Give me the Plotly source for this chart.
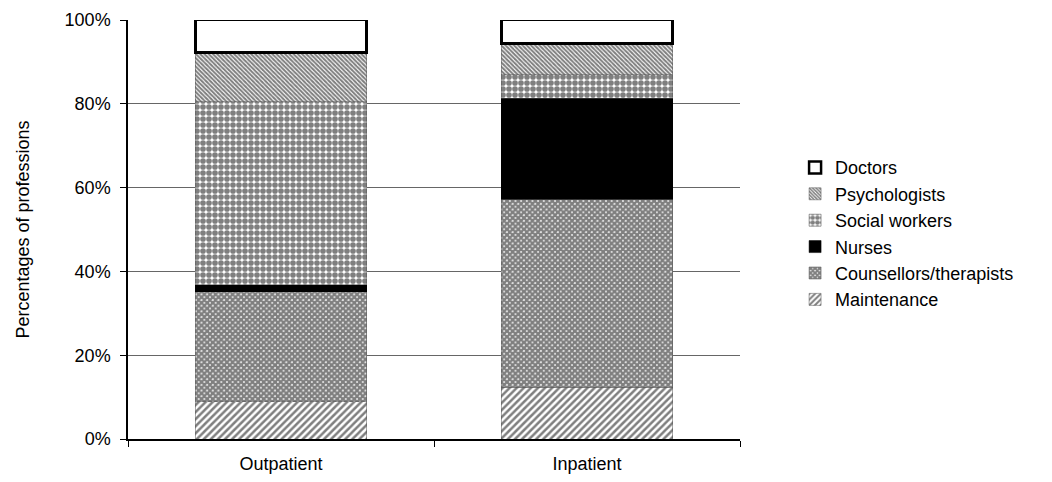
import plotly.graph_objects as go

categories = ["Outpatient", "Inpatient"]
maintenance = [8.9, 12.3]
counsellors = [26.3, 44.9]
nurses = [1.6, 24.1]
social_workers = [43.7, 5.6]
psychologists = [11.7, 7.5]
doctors = [7.8, 5.6]

series = [
    ("Maintenance", maintenance, dict(shape="/", size=5, solidity=0.5, fgcolor="black", bgcolor="white"), dict(color="#555", width=0.5)),
    ("Counsellors/therapists", counsellors, dict(shape="x", size=4, solidity=0.85, fgcolor="black", bgcolor="white"), dict(color="#555", width=0.5)),
    ("Nurses", nurses, None, dict(color="black", width=0.5)),
    ("Social workers", social_workers, dict(shape=".", size=6, solidity=0.7, fgcolor="black", bgcolor="white"), dict(color="#555", width=0.5)),
    ("Psychologists", psychologists, dict(shape="\\", size=3, solidity=0.65, fgcolor="black", bgcolor="white"), dict(color="#555", width=0.5)),
    ("Doctors", doctors, None, dict(color="black", width=2.5)),
]
colors = {"Nurses": "black", "Doctors": "white"}

fig = go.Figure()
for name, vals, pat, line in series:
    marker = dict(line=line)
    if pat is not None:
        marker["color"] = "white"
        marker["pattern"] = pat
    else:
        marker["color"] = colors[name]
    fig.add_trace(go.Bar(name=name, x=categories, y=vals, marker=marker))

font = dict(family="Arial, Liberation Sans, sans-serif", size=18, color="black")
fig.update_layout(
    barmode="stack",
    bargap=0.44,
    width=1052, height=482,
    margin=dict(l=128, r=312, t=20, b=43, autoexpand=False),
    paper_bgcolor="white", plot_bgcolor="white",
    font=font,
    showlegend=True,
    legend=dict(traceorder="reversed", x=1.09, xanchor="left", y=0.49, yanchor="middle",
                font=font, tracegroupgap=0, itemwidth=30),
)
fig.update_yaxes(range=[0, 100], tickvals=[0, 20, 40, 60, 80, 100],
                 ticktext=["0%", "20%", "40%", "60%", "80%", "100%"],
                 showgrid=True, gridcolor="#666", gridwidth=1,
                 showline=True, linecolor="black", linewidth=1.5,
                 ticks="outside", ticklen=6, tickcolor="black",
                 ticklabelstandoff=6, automargin=False,
                 zeroline=False,
                 title=dict(text="Percentages of professions", font=font, standoff=30))
fig.update_xaxes(showline=True, linecolor="black", linewidth=1.5,
                 ticks="outside", ticklen=6, tickcolor="black", tickson="boundaries",
                 ticklabelstandoff=8, automargin=False,
                 showgrid=False)
fig.write_html("out.html")
